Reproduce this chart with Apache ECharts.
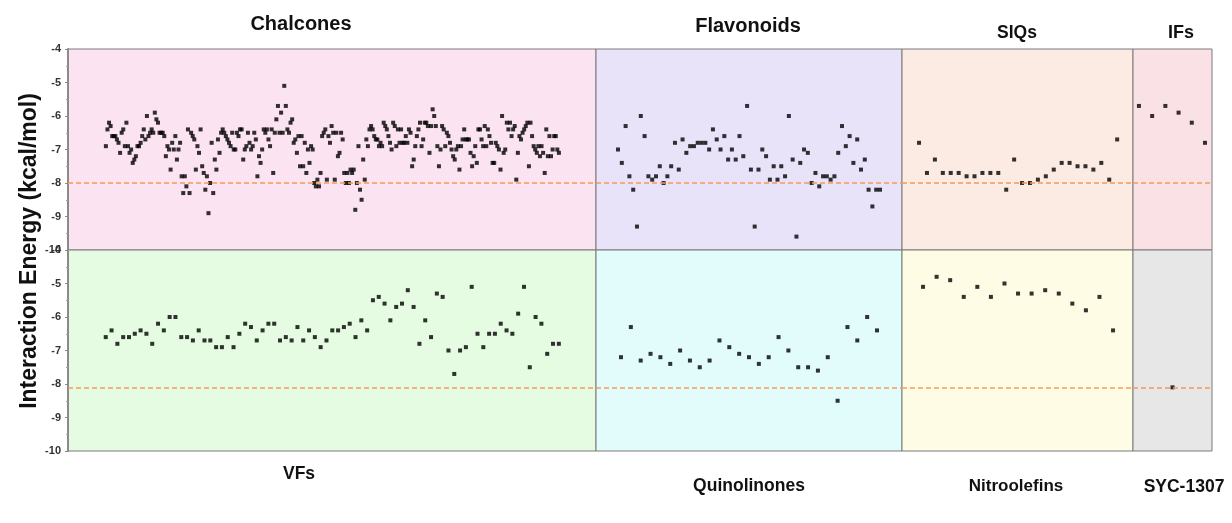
<!DOCTYPE html>
<html>
<head>
<meta charset="utf-8">
<script src="https://cdn.jsdelivr.net/npm/echarts@6.0.0/dist/echarts.min.js"></script>
<style>
  html, body { margin: 0; padding: 0; background: #ffffff; }
  #chart { width: 1232px; height: 523px; }
</style>
</head>
<body>
<div id="chart"></div>
<script>
// Interaction energies (kcal/mol) per compound, in plotting order
const chalcones = [
  -6.9, -6.4, -6.2, -6.3, -6.6, -6.6, -6.6, -6.7, -6.8, -7.1, -6.5, -6.4, -6.9, -6.2, -6.9, -7.1,
  -7.0, -7.4, -7.3, -7.2, -6.9, -6.9, -6.8, -6.6, -6.4, -6.7, -6.0, -6.6, -6.5, -6.4, -6.5, -5.9,
  -6.1, -6.2, -6.5, -6.5, -6.5, -6.6, -7.2, -6.9, -7.0, -7.6, -6.8, -7.0, -6.6, -7.3, -7.0, -6.8,
  -7.8, -8.3, -7.8, -8.1, -6.4, -8.3, -6.5, -6.6, -6.7, -7.6, -6.9, -7.1, -6.4, -7.5, -7.7,
  -8.2, -7.8, -8.9, -8.0, -6.8, -8.3, -7.3, -7.6, -6.7, -7.1, -6.5, -6.4, -6.5, -6.6, -6.7, -6.8,
  -6.9, -6.5, -7.0, -7.0, -6.5, -6.6, -6.4, -6.4, -7.3, -7.0, -6.9, -6.5, -6.8, -7.0, -6.9, -6.5,
  -6.7, -7.8, -7.2, -7.4, -7.0, -6.4, -6.5, -6.4, -6.7, -6.9, -6.4, -7.7, -6.5, -6.1, -5.7, -6.5,
  -5.9, -6.5, -5.1, -5.7, -6.4, -6.5, -6.2, -6.1, -6.8, -6.7, -7.1, -6.6, -7.5, -6.6, -7.5, -6.8,
  -7.7, -7.0, -7.4, -6.9, -7.0, -8.0, -8.1,
  -7.9, -8.1, -7.7, -6.6, -6.5, -6.4, -7.9, -6.6, -6.8, -6.3, -6.5, -7.9, -6.5, -7.2, -7.1, -6.5,
  -6.7, -7.7, -8.0, -7.7, -8.0, -7.6, -7.7, -7.6, -8.8, -8.0, -6.9, -8.2, -8.5, -7.3, -7.9, -6.7,
  -6.9, -6.4, -6.3, -6.4, -6.6, -6.7, -6.7, -6.9, -6.8, -6.9, -6.2, -6.3, -6.4, -6.6, -6.8, -7.0,
  -6.2, -6.3, -6.9, -6.4, -6.8, -6.4, -6.8, -6.8, -6.6, -6.8, -6.4, -6.5, -7.5, -7.3, -6.9, -6.6,
  -6.4, -6.2, -6.9, -6.7, -6.2, -6.2, -6.3, -7.1, -6.3, -5.8, -6.0, -6.3, -6.9, -7.5, -7.0, -6.3,
  -6.4, -6.9, -6.5, -6.6, -6.8, -7.0, -7.2, -7.3, -7.0, -6.9, -7.6, -6.9, -6.7, -6.4, -6.7, -6.7,
  -6.7, -7.1, -7.5, -7.2, -6.9, -7.4, -6.4, -6.4, -6.7, -6.9, -6.3, -6.9, -6.4, -6.6, -6.8, -7.4,
  -7.4, -6.8, -6.9, -7.0, -7.6, -6.0, -7.1, -7.0, -6.2, -6.4, -6.2, -6.6, -6.4, -6.3, -7.9, -7.1,
  -6.6, -6.7, -6.5, -6.4, -6.3, -6.2, -7.5, -6.2, -6.6, -6.9, -7.0, -7.1, -6.9, -7.2, -6.9, -7.1,
  -7.7, -6.4, -7.2, -6.6, -7.2, -7.0, -6.6, -6.6, -7.0, -7.1
];
const flavonoids = [
  -7.0, -7.4, -6.3, -7.8, -8.2, -9.3, -6.0, -6.6, -7.8, -7.9, -7.8, -7.5, -8.0, -7.8, -7.5, -6.8,
  -7.6, -6.7, -7.1, -6.9, -6.9, -6.8, -6.8, -6.8, -7.0, -6.4, -6.7, -7.0, -6.6, -7.3, -7.0, -7.3,
  -6.6, -7.2, -5.7, -7.6, -9.3, -7.6, -7.0, -7.2, -7.9, -7.5, -7.9, -7.5, -7.8, -6.0, -7.3, -9.6,
  -7.4, -7.0, -7.1, -8.0, -7.7, -8.1, -7.8, -7.8, -7.9, -7.8, -7.1, -6.3, -6.9, -6.6, -7.4, -6.7,
  -7.6, -7.3, -8.2, -8.7, -8.2, -8.2
];
const siqs = [
  -6.8, -7.7, -7.3, -7.7, -7.7, -7.7, -7.8, -7.8, -7.7, -7.7, -7.7, -8.2, -7.3, -8.0, -8.0, -7.9,
  -7.8, -7.6, -7.4, -7.4, -7.5, -7.5, -7.6, -7.4, -7.9, -6.7
];
const ifs = [-5.7, -6.0, -5.7, -5.9, -6.2, -6.8];
const vfs = [
  -6.6, -6.4, -6.8, -6.6, -6.6, -6.5, -6.4, -6.5, -6.8, -6.2, -6.4, -6.0, -6.0, -6.6, -6.6, -6.7,
  -6.4, -6.7, -6.7, -6.9, -6.9, -6.6, -6.9, -6.5, -6.2, -6.3, -6.7, -6.4, -6.2, -6.2, -6.7, -6.6,
  -6.7, -6.3, -6.7, -6.4, -6.6, -6.9, -6.7, -6.4, -6.4, -6.3, -6.2, -6.6, -6.1, -6.4, -5.5, -5.4,
  -5.6, -6.1, -5.7, -5.6, -5.2, -5.7, -6.8, -6.1, -6.6, -5.3, -5.4, -7.0, -7.7, -7.0, -6.9, -5.1,
  -6.5, -6.9, -6.5, -6.5, -6.2, -6.4, -6.5, -5.9, -5.1, -7.5, -6.0, -6.2, -7.1, -6.8, -6.8
];
const quinolinones = [
  -7.2, -6.3, -7.3, -7.1, -7.2, -7.4, -7.0, -7.3, -7.5, -7.3, -6.7, -6.9, -7.1, -7.2, -7.4, -7.2,
  -6.6, -7.0, -7.5, -7.5, -7.6, -7.2, -8.5, -6.3, -6.7, -6.0, -6.4
];
const nitroolefins = [
  -5.1, -4.8, -4.9, -5.4, -5.1, -5.4, -5.0, -5.3, -5.3, -5.2, -5.3, -5.6, -5.8, -5.4, -6.4
];
const syc1307 = [-8.1];

// Dashed reference levels for the upper and lower rows
const referenceTop = -8.0;
const referenceBottom = -8.1;

// Energy axis range and tick values
const yMin = -10, yMax = -4, yStep = 1;
const yTickLabels = ['-10', '-9', '-8', '-7', '-6', '-5', '-4'];

const yAxisTitle = 'Interaction Energy (kcal/mol)';

// Panel layout: columns and rows of the grid in pixels
const columns = [
  { left: 68, width: 528 },
  { left: 596, width: 306 },
  { left: 902, width: 231 },
  { left: 1133, width: 79 }
];
const rows = [
  { top: 49, height: 201 },
  { top: 250, height: 201 }
];

// Each panel: data, position, fill, index padding on both sides, label placement and size
const panels = [
  { name: 'Chalcones',    data: chalcones,    row: 0, col: 0, bg: '#fbe3f1', pad: [24, 23.5],   label: [301, 24, 20] },
  { name: 'Flavonoids',   data: flavonoids,   row: 0, col: 1, bg: '#e9e3fa', pad: [5.8, 5.8],   label: [748, 26, 20] },
  { name: 'SIQs',         data: siqs,         row: 0, col: 2, bg: '#fbebe3', pad: [2.15, 2.0],  label: [1017, 33, 17.5] },
  { name: 'IFs',          data: ifs,          row: 0, col: 3, bg: '#f9e1e6', pad: [0.45, 0.53], label: [1181, 33, 18] },
  { name: 'VFs',          data: vfs,          row: 1, col: 0, bg: '#e5fbe2', pad: [6.5, 6.4],   label: [299, 474, 17.5] },
  { name: 'Quinolinones', data: quinolinones, row: 1, col: 1, bg: '#e2fbfb', pad: [2.54, 2.54], label: [749, 486, 17.5] },
  { name: 'Nitroolefins', data: nitroolefins, row: 1, col: 2, bg: '#fefce5', pad: [1.55, 1.47], label: [1016, 486, 17] },
  { name: 'SYC-1307',     data: syc1307,      row: 1, col: 3, bg: '#e7e7e7', pad: [1, 1],       label: [1184, 487, 17.5] }
];

const FONT = '"Liberation Sans", Arial, Helvetica, sans-serif';

const grids = [], xAxes = [], yAxes = [], series = [], graphics = [];

panels.forEach((p, i) => {
  const c = columns[p.col], r = rows[p.row];
  grids.push({
    left: c.left, top: r.top, width: c.width, height: r.height,
    show: true, backgroundColor: p.bg, borderColor: '#7a7a7a', borderWidth: 1,
    containLabel: false
  });
  xAxes.push({
    gridIndex: i, type: 'value', show: false,
    min: -p.pad[0], max: p.data.length - 1 + p.pad[1],
    splitLine: { show: false }
  });
  const isLeft = p.col === 0;
  yAxes.push({
    gridIndex: i, type: 'value', min: yMin, max: yMax, interval: yStep,
    show: isLeft,
    axisLine: { show: isLeft, onZero: false, lineStyle: { color: '#8a8a8a', width: 2 } },
    axisTick: { show: isLeft, length: 3, lineStyle: { color: '#8a8a8a' } },
    minorTick: { show: isLeft, splitNumber: 2, length: 2, lineStyle: { color: '#a0a0a0' } },
    splitLine: { show: false },
    axisLabel: {
      show: isLeft, margin: 7, fontSize: 11, fontWeight: 'bold', color: '#333333', fontFamily: FONT,
      formatter: v => yTickLabels[Math.round((v - yMin) / yStep)]
    }
  });
  series.push({
    name: p.name, type: 'scatter', xAxisIndex: i, yAxisIndex: i,
    data: p.data.map((v, k) => [p.data.length === 1 ? 0 : k, v]),
    symbol: 'rect', symbolSize: 4,
    itemStyle: { color: '#000000' },
    silent: true, z: 3,
    markLine: {
      silent: true, symbol: 'none', animation: false,
      label: { show: false },
      itemStyle: { color: '#f39a58' },
      lineStyle: { type: [5, 3], color: '#f39a58', width: 1.5, opacity: 1 },
      emphasis: { disabled: true },
      data: [{ yAxis: p.row === 0 ? referenceTop : referenceBottom }]
    }
  });
  graphics.push({
    type: 'text', x: p.label[0], y: p.label[1],
    style: {
      text: p.name, font: 'bold ' + p.label[2] + 'px ' + FONT, fill: '#111111',
      textAlign: 'center', textVerticalAlign: 'middle', align: 'center', verticalAlign: 'middle'
    }
  });
});

graphics.push({
  type: 'text', x: 30, y: 251, rotation: Math.PI / 2,
  style: {
    text: yAxisTitle, font: 'bold 23px ' + FONT, fill: '#111111',
    textAlign: 'center', textVerticalAlign: 'middle', align: 'center', verticalAlign: 'middle'
  }
});

const chart = echarts.init(document.getElementById('chart'), null, { renderer: 'canvas' });
chart.setOption({
  animation: false,
  backgroundColor: '#ffffff',
  grid: grids,
  xAxis: xAxes,
  yAxis: yAxes,
  series: series,
  graphic: graphics
});
</script>
</body>
</html>
